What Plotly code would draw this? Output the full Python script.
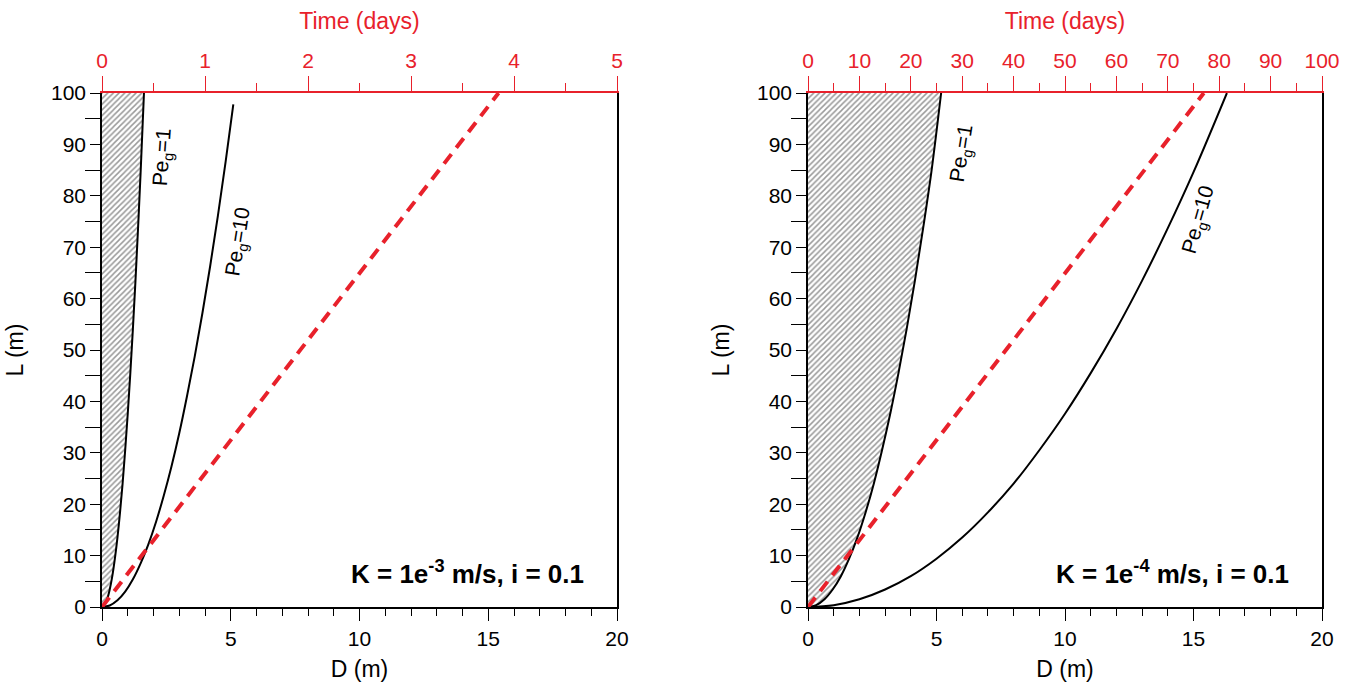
import plotly.graph_objects as go

# ---------------- data ----------------
# Left panel: K = 1e-3 m/s
left_peg1_D = [0, 0.1, 0.2, 0.3, 0.4, 0.5, 0.6, 0.7, 0.8, 0.9, 1.0, 1.1, 1.2, 1.3, 1.4, 1.5, 1.63]
left_peg1_L = [0, 0.4, 1.5, 3.4, 6.0, 9.4, 13.5, 18.4, 24.0, 30.5, 37.6, 45.5, 54.1, 63.5, 73.7, 84.6, 100]
left_peg10_D = [0, 0.3, 0.6, 0.9, 1.2, 1.5, 1.8, 2.1, 2.4, 2.7, 3.0, 3.3, 3.6, 3.9, 4.2, 4.5, 4.8, 5.1]
left_peg10_L = [0, 0.3, 1.3, 3.0, 5.4, 8.5, 12.2, 16.6, 21.7, 27.4, 33.8, 41.0, 48.7, 57.2, 66.3, 76.1, 86.6, 97.8]
left_time_days = [0, 3.85]
left_time_L = [0, 100]

# Right panel: K = 1e-4 m/s
right_peg1_D = [0, 0.32, 0.64, 0.96, 1.28, 1.6, 1.92, 2.24, 2.56, 2.88, 3.2, 3.52, 3.84, 4.16, 4.48, 4.8, 5.18]
right_peg1_L = [0, 0.35, 1.5, 3.4, 6.0, 9.4, 13.5, 18.4, 24.0, 30.5, 37.6, 45.5, 54.1, 63.5, 73.7, 84.6, 100]
right_peg10_D = [0, 1, 2, 3, 4, 5, 6, 7, 8, 9, 10, 11, 12, 13, 14, 15, 16.3]
right_peg10_L = [0, 0.35, 1.5, 3.4, 6.0, 9.4, 13.5, 18.4, 24.0, 30.5, 37.6, 45.5, 54.1, 63.5, 73.7, 84.6, 100]
right_time_days = [0, 77]
right_time_L = [0, 100]

# axis ranges
left_time_range = [0, 5]
right_time_range = [0, 100]
D_range = [0, 20]
L_range = [0, 100]

RED = "#e8212b"
FONT = "Liberation Sans, Arial, sans-serif"
W, H = 1357, 686

fig = go.Figure()

hatch = dict(shape="/", fgcolor="#333333", bgcolor="white", size=4, solidity=0.38)

# left panel
fig.add_trace(go.Scatter(x=left_peg1_D, y=left_peg1_L, mode="lines", line=dict(color="black", width=2, shape="spline"),
                         fill="tozerox", fillcolor="white", fillpattern=hatch, xaxis="x", yaxis="y", showlegend=False))
fig.add_trace(go.Scatter(x=left_peg10_D, y=left_peg10_L, mode="lines", line=dict(color="black", width=2, shape="spline"),
                         xaxis="x", yaxis="y", showlegend=False))
fig.add_trace(go.Scatter(x=left_time_days, y=left_time_L, mode="lines", line=dict(color=RED, width=4, dash="12px,8px"),
                         xaxis="x2", yaxis="y", showlegend=False))

# right panel
fig.add_trace(go.Scatter(x=right_peg1_D, y=right_peg1_L, mode="lines", line=dict(color="black", width=2, shape="spline"),
                         fill="tozerox", fillcolor="white", fillpattern=hatch, xaxis="x3", yaxis="y2", showlegend=False))
fig.add_trace(go.Scatter(x=right_peg10_D, y=right_peg10_L, mode="lines", line=dict(color="black", width=2, shape="spline"),
                         xaxis="x3", yaxis="y2", showlegend=False))
fig.add_trace(go.Scatter(x=right_time_days, y=right_time_L, mode="lines", line=dict(color=RED, width=4, dash="12px,8px"),
                         xaxis="x4", yaxis="y2", showlegend=False))

ydom = [1 - 607 / H, 1 - 93 / H]
ldom = [102 / W, 617 / W]
rdom = [808 / W, 1322 / W]

tickfont = dict(family=FONT, size=21, color="black")
titlefont = dict(family=FONT, size=23, color="black")
redtick = dict(family=FONT, size=21, color=RED)
redtitle = dict(family=FONT, size=23, color=RED)


def bottom_axis(domain, anchor):
    return dict(domain=domain, anchor=anchor, range=D_range, dtick=5, tick0=0,
                ticks="outside", ticklen=12, tickwidth=1.3, tickcolor="black",
                minor=dict(dtick=1, ticks="outside", ticklen=7, tickwidth=1.3, tickcolor="black", showgrid=False),
                showline=True, linecolor="black", linewidth=1.5, showgrid=False, zeroline=False,
                tickfont=tickfont, title=dict(text="D (m)", font=titlefont, standoff=12), automargin=False)


def top_axis(overlay, anchor, rng, dt, mdt):
    return dict(overlaying=overlay, side="top", anchor=anchor, range=rng, dtick=dt, tick0=0,
                ticks="outside", ticklen=15, tickwidth=1.3, tickcolor=RED,
                minor=dict(dtick=mdt, ticks="outside", ticklen=8, tickwidth=1.3, tickcolor=RED, showgrid=False),
                showline=True, linecolor=RED, linewidth=1.5, showgrid=False, zeroline=False,
                tickfont=redtick, title=dict(text="Time (days)", font=redtitle, standoff=13), automargin=False)


def left_axis(anchor):
    return dict(domain=ydom, anchor=anchor, range=L_range, dtick=10, tick0=0,
                ticks="outside", ticklen=10, tickwidth=1.3, tickcolor="black",
                minor=dict(dtick=5, ticks="outside", ticklen=15, tickwidth=1.3, tickcolor="black", showgrid=False),
                showline=True, mirror=True, linecolor="black", linewidth=1.5, showgrid=False, zeroline=False,
                tickfont=tickfont, title=dict(text="L (m)", font=titlefont, standoff=21), automargin=False)


fig.update_layout(
    width=W, height=H,
    margin=dict(l=0, r=0, t=0, b=0),
    paper_bgcolor="white", plot_bgcolor="white",
    font=dict(family=FONT, color="black"),
    xaxis=bottom_axis(ldom, "y"),
    xaxis2=top_axis("x", "y", left_time_range, 1, 0.5),
    yaxis=left_axis("x"),
    xaxis3=bottom_axis(rdom, "y2"),
    xaxis4=top_axis("x3", "y2", right_time_range, 10, 5),
    yaxis2=left_axis("x3"),
)

labfont = dict(family=FONT, size=21, color="black")
kfont = dict(family=FONT, size=26, color="black")
ann = [
    dict(x=2.37, y=87.5, xref="x", yref="y", text="Pe<sub>g</sub>=1", textangle=-86, showarrow=False, font=labfont),
    dict(x=5.3, y=71, xref="x", yref="y", text="Pe<sub>g</sub>=10", textangle=-81, showarrow=False, font=labfont),
    dict(x=6.0, y=88.3, xref="x3", yref="y2", text="Pe<sub>g</sub>=1", textangle=-81, showarrow=False, font=labfont),
    dict(x=15.2, y=75.3, xref="x3", yref="y2", text="Pe<sub>g</sub>=10", textangle=-74, showarrow=False, font=labfont),
    dict(x=14.2, y=6.8, xref="x", yref="y", text="<b>K = 1e<sup>-3</sup> m/s, i = 0.1</b>", showarrow=False, font=kfont),
    dict(x=14.2, y=6.8, xref="x3", yref="y2", text="<b>K = 1e<sup>-4</sup> m/s, i = 0.1</b>", showarrow=False, font=kfont),
]
fig.update_layout(annotations=ann)

fig.write_html("out.html", config={"displayModeBar": False},
               post_script="document.body.style.margin='0';document.body.style.padding='0';")
